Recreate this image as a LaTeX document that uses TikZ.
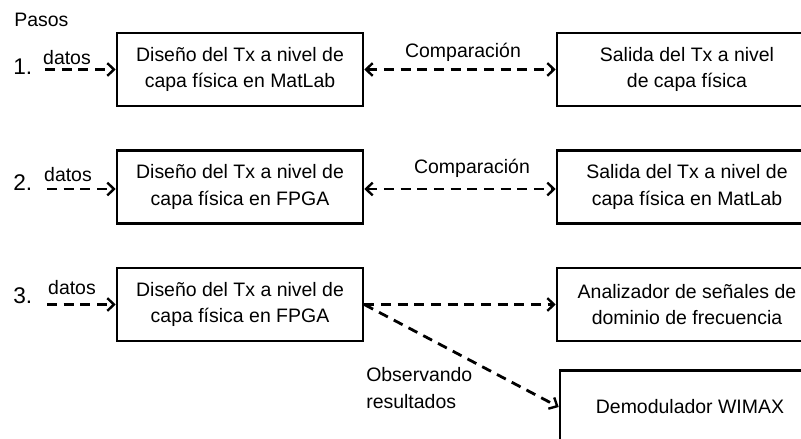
\documentclass[tikz,border=0pt]{standalone}
\usepackage{fontspec}
\setmainfont{Liberation Sans}
\usetikzlibrary{arrows.meta}
\begin{document}
\begin{tikzpicture}[x=0.75pt,y=-0.75pt,
  every node/.style={font=\fontsize{14.6}{20}\selectfont, inner sep=0pt},
  box/.style={draw, line width=1.9pt, align=center, minimum width=184.5pt, minimum height=54.5pt},
  rbox/.style={draw, line width=1.9pt, align=center, minimum width=195pt, minimum height=54.5pt},
  flow/.style={line width=2.1pt, dash pattern=on 7.5pt off 5pt, -{Straight Barb[length=5pt,width=9.5pt,line width=1.8pt]}},
  biflow/.style={flow, {Straight Barb[length=5pt,width=9.5pt,line width=1.8pt]}-{Straight Barb[length=5pt,width=9.5pt,line width=1.8pt]}},
  lbl/.style={anchor=center},
  num/.style={anchor=west, font=\fontsize{17}{20}\selectfont}
]
\useasboundingbox (0,0) rectangle (801,439);
\clip (0,0) rectangle (801,439);

\node[anchor=west] (pasos) at (14,20) {Pasos};

% Row 1
\node[box] (b1) at (240,69.5) {Diseño del Tx a nivel de\\capa física en MatLab};
\node[rbox] (r1) at (687,69.5) {Salida del Tx a nivel\\de capa física};
\node[num] (n1) at (13,67) {1.};
\node[lbl] (dt1) at (67,58) {datos};
\coordinate (d1) at (45,69.5);
\draw[flow] (d1) -- (b1.west);
\draw[biflow] (b1.east) -- (r1.west);
\node[lbl] (c1) at (463,52) {Comparación};

% Row 2
\node[box] (b2) at (240,187) {Diseño del Tx a nivel de\\capa física en FPGA};
\node[rbox] (r2) at (687,187) {Salida del Tx a nivel de\\capa física en MatLab};
\node[num] (n2) at (13,183) {2.};
\node[lbl] (dt2) at (68,175) {datos};
\coordinate (d2) at (47,189);
\draw[flow] (d2) -- (d2 -| b2.west);
\draw[biflow] (b2.east |- 0,189) -- (r2.west |- 0,189);
\node[lbl] (c2) at (472,168) {Comparación};

% Row 3
\node[box] (b3) at (240,304.5) {Diseño del Tx a nivel de\\capa física en FPGA};
\node[rbox] (r3) at (687,304.5) {Analizador de señales de\\dominio de frecuencia};
\node[rbox] (r4) at (690,407) {Demodulador WIMAX};
\node[num] (n3) at (13,296) {3.};
\node[lbl] (dt3) at (72,288) {datos};
\coordinate (d3) at (47,304.5);
\draw[flow] (d3) -- (b3.west);
\draw[flow] (b3.east) -- (r3.west);
\draw[flow] (b3.east) -- (r4.west);
\node[anchor=west, align=left] (obs) at (366,388) {Observando\\resultados};
\end{tikzpicture}
\end{document}
